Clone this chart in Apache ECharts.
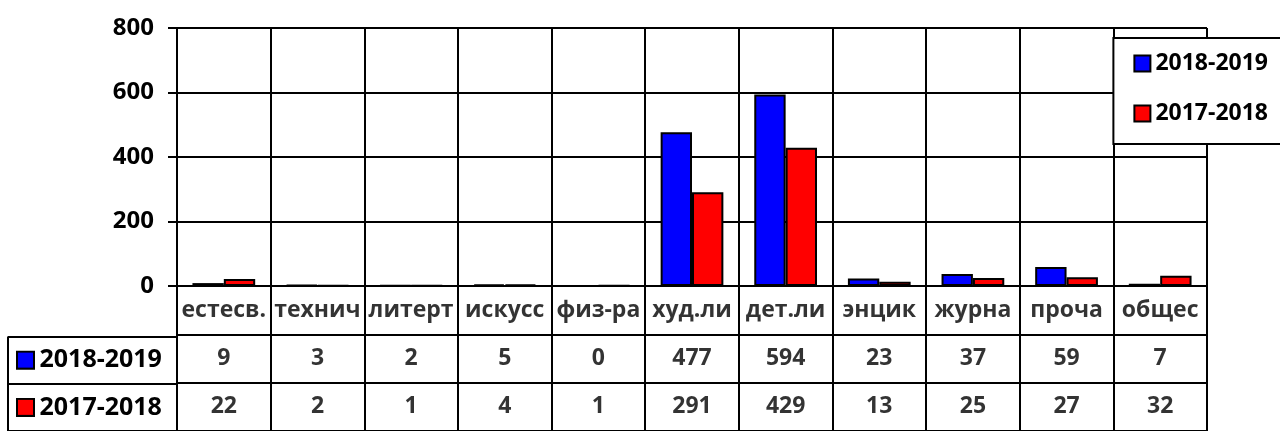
<!DOCTYPE html>
<html><head><meta charset="utf-8">
<script src="https://cdn.jsdelivr.net/npm/echarts@6/dist/echarts.min.js"></script>
<style>html,body{margin:0;padding:0;background:#fff}#c{width:1280px;height:431px}</style>
</head><body><div id="c"></div>
<script>
var categories = ['естесв.','технич','литерт','искусс','физ-ра','худ.ли','дет.ли','энцик','журна','проча','общес'];
var seriesNames = ['2018-2019','2017-2018'];
var s2019 = [9,3,2,5,0,477,594,23,37,59,7];
var s2018 = [22,2,1,4,1,291,429,13,25,27,32];
var yTicks = [0,200,400,600,800];
var colors = ['#0000FF','#FF0000'];

var FONT = '"Open Sans", sans-serif';
var FS = 23;
var rows = ['cat'].concat(seriesNames);
var lineStyle = {color:'#000', width:2};

var tableData = [];
categories.forEach(function(c,i){
  tableData.push({value:[i,0], name:c});
  tableData.push({value:[i,1], name:String(s2019[i])});
  tableData.push({value:[i,2], name:String(s2018[i])});
});

var rowH = 50.5;
var chart = echarts.init(document.getElementById('c'));
chart.setOption({
  animation:false,
  textStyle:{fontFamily:FONT, fontWeight:'bold', color:'#000'},
  legend:{
    data:seriesNames, orient:'vertical', right:-68, top:38,
    backgroundColor:'#fff', borderColor:'#000', borderWidth:2, borderRadius:0,
    padding:[14,80,19,20], itemGap:27, itemWidth:16, itemHeight:16, itemTextGap:7,
    icon:'rect',
    textStyle:{fontFamily:FONT, fontWeight:'bold', fontSize:FS, color:'#000'}
  },
  grid:[
    {left:177, right:73, top:28, height:258},
    {left:177, right:73, top:286, height:rowH*3},
    {left:8, width:169, top:286+rowH, height:rowH*2}
  ],
  xAxis:[
    {type:'category', gridIndex:0, data:categories,
     axisLine:{show:true, lineStyle:lineStyle}, axisTick:{show:false}, axisLabel:{show:false},
     splitLine:{show:true, interval:0, lineStyle:lineStyle}},
    {type:'category', gridIndex:1, data:categories,
     axisLine:{show:false}, axisTick:{show:false}, axisLabel:{show:false},
     splitLine:{show:true, interval:0, lineStyle:lineStyle}},
    {type:'category', gridIndex:2, data:['h'],
     axisLine:{show:false}, axisTick:{show:false}, axisLabel:{show:false},
     splitLine:{show:true, interval:0, lineStyle:lineStyle}}
  ],
  yAxis:[
    {type:'value', gridIndex:0, min:0, max:800, interval:200,
     axisLine:{show:true, lineStyle:lineStyle},
     axisTick:{show:true, length:9, lineStyle:lineStyle},
     axisLabel:{fontFamily:FONT, fontWeight:'bold', fontSize:24, color:'#000', margin:23},
     splitLine:{show:true, lineStyle:lineStyle}},
    {type:'category', gridIndex:1, data:rows, inverse:true,
     axisLine:{show:false}, axisTick:{show:false}, axisLabel:{show:false},
     splitLine:{show:true, interval:0, lineStyle:lineStyle}},
    {type:'category', gridIndex:2, data:seriesNames, inverse:true,
     axisLine:{show:false}, axisTick:{show:false},
     axisLabel:{inside:true, margin:10, align:'left',
       formatter:function(v,i){ return '{s'+i+'|}{t| '+v+'}'; },
       rich:{
         s0:{width:15, height:15, backgroundColor:colors[0], borderColor:'#000', borderWidth:2},
         s1:{width:15, height:15, backgroundColor:colors[1], borderColor:'#000', borderWidth:2},
         t:{fontFamily:FONT, fontWeight:'bold', fontSize:25, color:'#000'}
       }},
     splitLine:{show:true, interval:0, lineStyle:lineStyle}}
  ],
  series:[
    {name:seriesNames[0], type:'bar', xAxisIndex:0, yAxisIndex:0, data:s2019,
     barGap:'0%', barCategoryGap:'33%',
     itemStyle:{color:colors[0], borderColor:'#000', borderWidth:2}},
    {name:seriesNames[1], type:'bar', xAxisIndex:0, yAxisIndex:0, data:s2018,
     barGap:'0%', barCategoryGap:'33%',
     itemStyle:{color:colors[1], borderColor:'#000', borderWidth:2}},
    {name:'table', type:'scatter', xAxisIndex:1, yAxisIndex:1, data:tableData,
     symbolSize:1, itemStyle:{color:'transparent'}, silent:true,
     label:{show:true, position:'inside', formatter:'{b}',
       fontFamily:FONT, fontWeight:'bold', fontSize:FS, color:'#000'}}
  ]
});
</script>
</body></html>
